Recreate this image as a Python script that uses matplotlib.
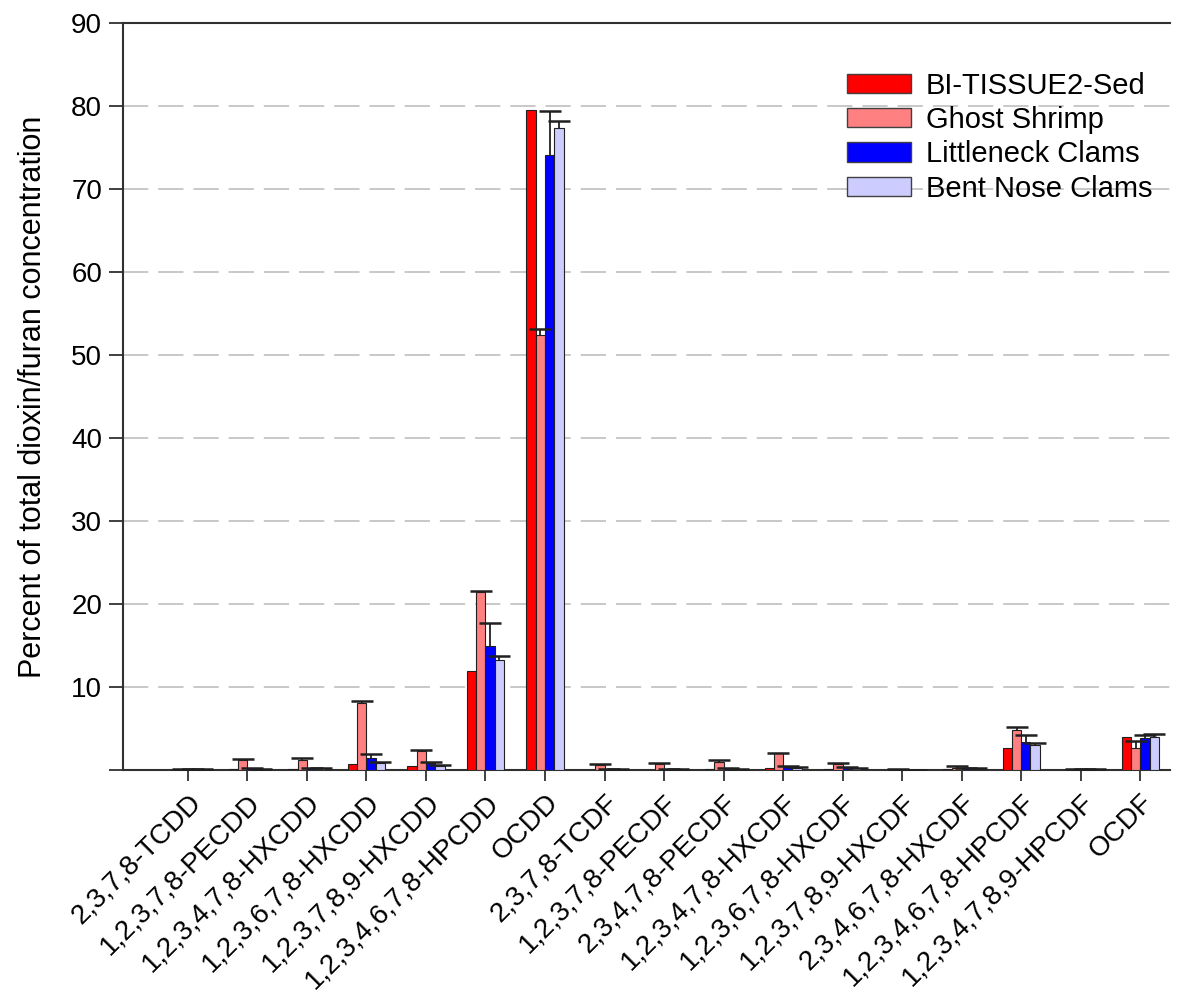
import matplotlib
matplotlib.use("Agg")
import matplotlib.pyplot as plt
import numpy as np

categories = ["2,3,7,8-TCDD", "1,2,3,7,8-PECDD", "1,2,3,4,7,8-HXCDD", "1,2,3,6,7,8-HXCDD",
              "1,2,3,7,8,9-HXCDD", "1,2,3,4,6,7,8-HPCDD", "OCDD", "2,3,7,8-TCDF",
              "1,2,3,7,8-PECDF", "2,3,4,7,8-PECDF", "1,2,3,4,7,8-HXCDF", "1,2,3,6,7,8-HXCDF",
              "1,2,3,7,8,9-HXCDF", "2,3,4,6,7,8-HXCDF", "1,2,3,4,6,7,8-HPCDF",
              "1,2,3,4,7,8,9-HPCDF", "OCDF"]

series_names = ["BI-TISSUE2-Sed", "Ghost Shrimp", "Littleneck Clams", "Bent Nose Clams"]

sed = [0.05, 0.1, 0.1, 0.75, 0.5, 11.9, 79.5, 0.05, 0.05, 0.1, 0.2, 0.1, 0.02, 0.15, 2.7, 0.05, 4.0]
shrimp = [0.1, 1.2, 1.2, 8.1, 2.3, 21.5, 52.4, 0.6, 0.7, 1.0, 2.0, 0.7, 0.05, 0.25, 4.8, 0.1, 2.7]
shrimp_err = [0.02, 0.15, 0.2, 0.25, 0.1, 0.1, 0.7, 0.1, 0.15, 0.2, 0.1, 0.15, 0.02, 0.2, 0.4, 0.05, 0.8]
littleneck = [0.05, 0.2, 0.2, 1.4, 0.8, 14.9, 74.1, 0.1, 0.1, 0.2, 0.4, 0.3, 0.03, 0.2, 3.4, 0.08, 3.9]
littleneck_err = [0.02, 0.05, 0.05, 0.5, 0.15, 2.8, 5.3, 0.02, 0.03, 0.05, 0.1, 0.1, 0.02, 0.1, 0.8, 0.03, 0.35]
bentnose = [0.05, 0.1, 0.2, 0.9, 0.5, 13.3, 77.3, 0.05, 0.08, 0.1, 0.3, 0.2, 0.03, 0.15, 3.0, 0.08, 4.0]
bentnose_err = [0.02, 0.05, 0.05, 0.1, 0.1, 0.4, 0.9, 0.02, 0.03, 0.05, 0.05, 0.05, 0.02, 0.05, 0.25, 0.03, 0.3]

ytick_values = [0, 10, 20, 30, 40, 50, 60, 70, 80, 90]
ytick_labels = ["", "10", "20", "30", "40", "50", "60", "70", "80", "90"]

colors = ["#ff0000", "#ff8080", "#0000ff", "#ccccff"]
values = [sed, shrimp, littleneck, bentnose]
errors = [None, shrimp_err, littleneck_err, bentnose_err]

plt.rcParams['font.family'] = ['Liberation Sans', 'DejaVu Sans']

fig = plt.figure(figsize=(11.86, 9.92), dpi=100)
ax = fig.add_axes([123/1186, 1 - 770/992, (1170 - 123)/1186, (770 - 23)/992])

x = np.arange(len(categories))
w = 0.156
for k in range(4):
    pos = x + (k - 1.5) * w
    ax.bar(pos, values[k], width=w, color=colors[k], edgecolor="#202020", linewidth=0.8,
           label=series_names[k], zorder=3)
    if errors[k] is not None:
        eb = ax.errorbar(pos, values[k], yerr=[np.zeros(len(x)), errors[k]], fmt="none",
                         ecolor="#202020", elinewidth=1.3, capsize=8, capthick=1.8, zorder=4)
        caps = eb[1]
        if len(caps) == 2:
            caps[0].set_visible(False)

ax.set_xlim(-1.09, 16.5)
ax.set_ylim(0, 90)
ax.set_yticks(ytick_values)
ax.set_yticklabels(ytick_labels)
ax.set_xticks(x)
ax.set_xticklabels(categories, rotation=45, ha="right", rotation_mode="anchor", fontsize=20)
ax.tick_params(axis="y", labelsize=20, length=10, width=1.3, direction="out", pad=5,
               color="#303030")
ax.tick_params(axis="x", length=8, width=1.3, direction="out", pad=6, color="#303030")
ax.set_ylabel("Percent of total dioxin/furan concentration", fontsize=22, labelpad=17)

for yv in ytick_values[1:-1]:
    ax.axhline(yv, color="#c4c4c4", linestyle=(0, (14, 5.5)), linewidth=1.3, zorder=1)

ax.spines["right"].set_visible(False)
for s in ["top", "left", "bottom"]:
    ax.spines[s].set_linewidth(1.5)
    ax.spines[s].set_color("#303030")

leg = ax.legend(loc="upper left", bbox_to_anchor=(0.6915, 0.935), frameon=False, fontsize=21,
                handlelength=2.2, handleheight=0.65, handletextpad=0.5, labelspacing=0.22,
                borderpad=0, borderaxespad=0)
for p in leg.get_patches():
    p.set_edgecolor("#404040")
    p.set_linewidth(1.0)

fig.savefig("out.png", dpi=100)
